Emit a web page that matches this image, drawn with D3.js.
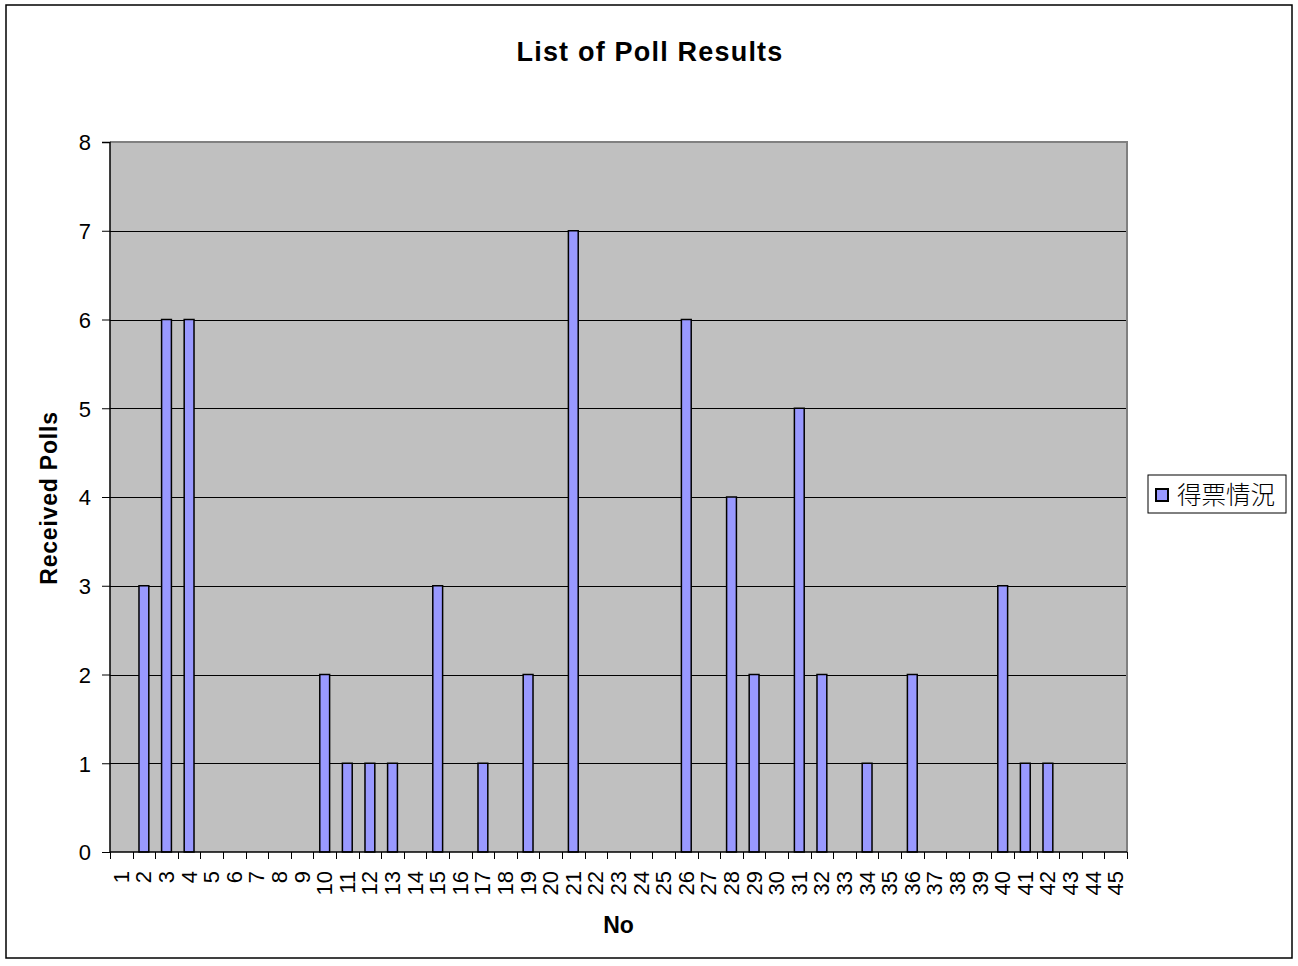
<!DOCTYPE html>
<html>
<head>
<meta charset="utf-8">
<script src="https://cdn.jsdelivr.net/npm/d3@7"></script>
<style>
  body { margin: 0; background: #fff; }
  svg text { font-family: "Liberation Sans", Arial, sans-serif; fill: #000; }
</style>
</head>
<body>
<div class="graph"></div>
<script>
// chart data
var categories = d3.range(1, 46).map(String);
var polls = [0, 3, 6, 6, 0, 0, 0, 0, 0, 2,
             1, 1, 1, 0, 3, 0, 1, 0, 2, 0,
             7, 0, 0, 0, 0, 6, 0, 4, 2, 0,
             5, 2, 0, 1, 0, 2, 0, 0, 0, 3,
             1, 1, 0, 0, 0];
var yTicks = [0, 1, 2, 3, 4, 5, 6, 7, 8];
var seriesName = "得票情況";

var W = 1298, H = 966;
var margin = {top: 142, right: 171, bottom: 114, left: 110},
    width = W - margin.left - margin.right,
    height = H - margin.top - margin.bottom;

var data = categories.map(function(c, i) { return {no: c, v: polls[i]}; });

var svg = d3.select(".graph").append("svg")
    .attr("width", W)
    .attr("height", H);

// outer border
svg.append("rect")
    .attr("x", 6).attr("y", 5)
    .attr("width", 1286).attr("height", 953)
    .attr("fill", "#fff")
    .attr("stroke", "#000")
    .attr("stroke-width", 1.5);

var g = svg.append("g")
    .attr("transform", "translate(" + margin.left + "," + margin.top + ")");

var x = d3.scaleBand().domain(categories).range([0, width]);
var y = d3.scaleLinear().domain([0, 8]).range([height, 0]);

// plot background
g.append("rect")
    .attr("width", width).attr("height", height)
    .attr("fill", "#c0c0c0");

// gridlines
g.selectAll(".grid")
    .data(yTicks.slice(1, -1))
  .enter().append("line")
    .attr("class", "grid")
    .attr("x1", 0).attr("x2", width)
    .attr("y1", function(d) { return Math.round(y(d)) + 0.5; })
    .attr("y2", function(d) { return Math.round(y(d)) + 0.5; })
    .attr("stroke", "#000")
    .attr("stroke-width", 1);

// plot frame (top/right gray)
g.append("path")
    .attr("d", "M0,0H" + width + "V" + height)
    .attr("fill", "none")
    .attr("stroke", "#808080")
    .attr("stroke-width", 2);

// bars
var bw = x.bandwidth() / 2.3;
g.selectAll(".bar")
    .data(data.filter(function(d) { return d.v > 0; }))
  .enter().append("rect")
    .attr("class", "bar")
    .attr("x", function(d) { return x(d.no) + (x.bandwidth() - bw) / 2; })
    .attr("y", function(d) { return y(d.v); })
    .attr("width", bw)
    .attr("height", function(d) { return height - y(d.v); })
    .attr("fill", "#9999ff")
    .attr("stroke", "#000")
    .attr("stroke-width", 1.5);

// y axis
var yAxis = g.append("g")
    .attr("class", "yaxis")
    .call(d3.axisLeft(y).tickValues(yTicks).tickSize(8).tickPadding(11).tickFormat(d3.format("d")));
yAxis.select(".domain").attr("stroke", "#000").attr("stroke-width", 1.5).attr("d", "M-8,0.5H0V" + height);
yAxis.selectAll(".tick line").attr("stroke", "#000");
yAxis.selectAll("text").style("font-size", "22px").attr("dy", "0.36em");

// x axis with ticks at category boundaries
var xAxis = g.append("g")
    .attr("class", "xaxis")
    .attr("transform", "translate(0," + height + ")");
xAxis.append("line")
    .attr("x1", 0).attr("x2", width)
    .attr("stroke", "#000").attr("stroke-width", 1.5);
xAxis.selectAll(".xt")
    .data(d3.range(0, categories.length + 1))
  .enter().append("line")
    .attr("class", "xt")
    .attr("x1", function(i) { return Math.round(i * x.step()) + 0.5; })
    .attr("x2", function(i) { return Math.round(i * x.step()) + 0.5; })
    .attr("y1", 0).attr("y2", 7)
    .attr("stroke", "#000");
xAxis.selectAll(".xl")
    .data(categories)
  .enter().append("text")
    .attr("class", "xl")
    .attr("transform", function(d) {
      return "translate(" + (x(d) + x.bandwidth() / 2 + 7.5) + ",19) rotate(-90)";
    })
    .attr("text-anchor", "end")
    .style("font-size", "22px")
    .text(function(d) { return d; });

// titles
svg.append("text")
    .attr("x", 650).attr("y", 61)
    .attr("text-anchor", "middle")
    .style("font-size", "27px").style("font-weight", "bold")
    .style("letter-spacing", "1.2px")
    .text("List of Poll Results");

svg.append("text")
    .attr("x", margin.left + width / 2).attr("y", 933)
    .attr("text-anchor", "middle")
    .style("font-size", "23px").style("font-weight", "bold")
    .text("No");

svg.append("text")
    .attr("transform", "translate(57," + (margin.top + height / 2 + 1) + ") rotate(-90)")
    .attr("text-anchor", "middle")
    .style("font-size", "23px").style("font-weight", "bold")
    .style("letter-spacing", "0.8px")
    .text("Received Polls");

// legend
var lg = svg.append("g").attr("transform", "translate(1148,475)");
lg.append("rect")
    .attr("width", 138).attr("height", 38)
    .attr("fill", "#fff").attr("stroke", "#000").attr("stroke-width", 1);
lg.append("rect")
    .attr("x", 8).attr("y", 14).attr("width", 12).attr("height", 12)
    .attr("fill", "#9999ff").attr("stroke", "#000").attr("stroke-width", 2);
lg.append("text")
    .attr("x", 29).attr("y", 29)
    .style("font-family", "'Noto Sans CJK TC', sans-serif")
    .style("font-size", "24.5px")
    .style("font-weight", "300")
    .text(seriesName);
</script>
</body>
</html>
